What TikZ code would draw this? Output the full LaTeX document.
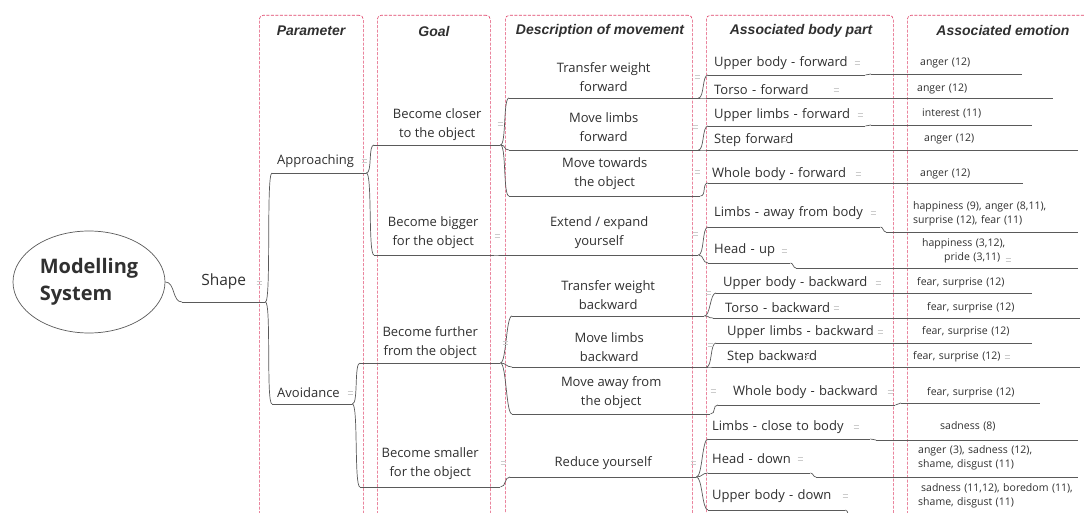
\documentclass[tikz,border=0pt]{standalone}
\usepackage{fontspec}
\setmainfont{Open Sans}
\newfontfamily\hdrfont{Liberation Sans}
\usetikzlibrary{shapes.geometric}
\definecolor{txt}{HTML}{303030}
\definecolor{lnc}{HTML}{5A5A5A}
\definecolor{colc}{HTML}{E0446A}
\definecolor{mkc}{HTML}{CCCCCC}
\newcommand\mainsz{\fontsize{13}{19}\selectfont}
\newcommand\emsz{\fontsize{10.5}{14.5}\selectfont}
\newcommand\hdrsz{\hdrfont\bfseries\itshape\fontsize{14}{16}\selectfont}
\begin{document}
\begin{tikzpicture}[x=1pt,y=-1pt,
 lnk/.style={draw=lnc, line width=0.7pt},
 brk/.style={to path={.. controls +(#1,0) and +(-#1,0) .. (\tikztotarget)}},
 brk/.default=6,
 colbox/.style={draw=colc, line width=0.6pt, dash pattern=on 3pt off 1.5pt, rounded corners=4pt, anchor=north west, inner sep=0pt},
 hdr/.style={font=\hdrsz, text=txt, inner sep=0pt},
 tn/.style={anchor=south west, inner sep=0pt, text=txt, font=\mainsz},
 ct/.style={tn, align=center},
 lt/.style={tn, align=left},
 em/.style={tn, align=left, font=\emsz},
 mk/.style={draw=mkc, line width=1.1pt},
]
\useasboundingbox (0,0) rectangle (1085,513);
\fill[white] (0,0) rectangle (1085,513);

% columns
\node[colbox, minimum width=104pt, minimum height=510pt] (cpar) at (259,15) {};
\node[colbox, minimum width=113pt, minimum height=510pt] (cgoal) at (377,15) {};
\node[colbox, minimum width=187pt, minimum height=510pt] (cdesc) at (505,15) {};
\node[colbox, minimum width=187pt, minimum height=510pt] (cbody) at (706,15) {};
\node[colbox, minimum width=185pt, minimum height=510pt] (cemo) at (907,15) {};

% headers
\node[hdr] (hpar) at (311,31) {Parameter};
\node[hdr] (hgoal) at (434,31) {Goal};
\node[hdr] (hdesc) at (600,31) {Description of movement};
\node[hdr] (hbody) at (801,31) {Associated body part};
\node[hdr] (hemo) at (1003,31) {Associated emotion};

% root
\node[ellipse, draw=lnc, line width=0.7pt, minimum width=152pt, minimum height=102pt, inner sep=0pt, align=left, text=txt, font=\fontsize{20}{27}\selectfont\bfseries] (root) at (89,282) {Modelling\\System};

% level 1
\node[ct, minimum width=83pt, minimum height=40pt, font=\fontsize{15.5}{18}\selectfont] (shape) at (182,302) {Shape};

% parameters
\node[lt, text width=94pt, minimum height=24pt] (appr) at (272,173) {\hspace*{5pt}Approaching};
\node[lt, text width=80pt, minimum height=22pt] (avoid) at (272,404) {\hspace*{5pt}Avoidance};

% goals
\node[ct, minimum width=126pt, minimum height=41pt] (closer) at (374,145) {Become closer\\to the object};
\node[ct, minimum width=118pt, minimum height=45pt] (bigger) at (374,255) {Become bigger\\for the object};
\node[ct, minimum width=140pt, minimum height=41pt] (further) at (360,363) {Become further\\from the object};
\node[ct, minimum width=140pt, minimum height=47pt] (smaller) at (360,487) {Become smaller\\for the object};

% descriptions
\node[ct, minimum width=189pt, minimum height=42pt] (twf) at (509,98) {Transfer weight\\forward};
\node[ct, minimum width=189pt, minimum height=46pt] (mlf) at (509,150) {Move limbs\\forward};
\node[ct, minimum width=191pt, minimum height=44pt] (mt) at (509,196) {Move towards\\the object};
\node[ct, minimum width=198pt, minimum height=45pt] (ext) at (500,255) {Extend / expand\\yourself};
\node[ct, minimum width=192pt, minimum height=41pt] (twb) at (512,316) {Transfer weight\\backward};
\node[ct, minimum width=194pt, minimum height=40pt] (mlb) at (512,367) {Move limbs\\backward};
\node[ct, minimum width=198pt, minimum height=43pt] (ma) at (512,414) {Move away from\\the object};
\node[ct, minimum width=186pt, minimum height=28pt] (red) at (510,477) {Reduce yourself};

% body parts
\node[lt, text width=157pt, minimum height=24pt] (b1) at (708,75) {\hspace*{6pt}Upper body - forward};
\node[lt, text width=137pt, minimum height=16pt] (b2) at (708,98) {\hspace*{6pt}Torso - forward};
\node[lt, text width=157pt, minimum height=22pt] (b3) at (708,126) {\hspace*{6pt}Upper limbs - forward};
\node[lt, text width=92pt, minimum height=20pt] (b4) at (708,150) {\hspace*{6pt}Step forward};
\node[lt, text width=157pt, minimum height=18pt] (b5) at (708,183) {\hspace*{4pt}Whole body - forward};
\node[lt, text width=172pt, minimum height=28pt] (b6) at (708,227) {\hspace*{6pt}Limbs - away from body};
\node[lt, text width=82pt, minimum height=26pt] (b7) at (708,263) {\hspace*{6pt}Head - up};
\node[lt, text width=167pt, minimum height=20pt] (b8) at (716,293) {\hspace*{7pt}Upper body - backward};
\node[lt, text width=132pt, minimum height=20pt] (b9) at (713,318) {\hspace*{12pt}Torso - backward};
\node[lt, text width=167pt, minimum height=22pt] (b10) at (716,343) {\hspace*{11pt}Upper limbs - backward};
\node[lt, text width=122pt, minimum height=20pt] (b11) at (713,367) {\hspace*{14pt}Step backward};
\node[lt, text width=177pt, minimum height=26pt] (b12) at (718,405) {\hspace*{15pt}Whole body - backward};
\node[lt, text width=162pt, minimum height=24pt] (b13) at (708,439) {\hspace*{4pt}Limbs - close to body};
\node[lt, text width=102pt, minimum height=28pt] (b14) at (708,473) {\hspace*{4pt}Head - down};
\node[lt, text width=137pt, minimum height=28pt] (b15) at (708,510) {\hspace*{4pt}Upper body - down};

% emotions
\node[em, text width=151pt, minimum height=22pt] (e1) at (871,74) {\hspace*{49pt}anger (12)};
\node[em, text width=202pt, minimum height=18pt] (e2) at (851,98) {\hspace*{66pt}anger (12)};
\node[em, text width=161pt, minimum height=22pt] (e3) at (871,125) {\hspace*{51pt}interest (11)};
\node[em, text width=272pt, minimum height=22pt] (e4) at (806,150) {\hspace*{118pt}anger (12)};
\node[em, text width=152pt, minimum height=18pt] (e5) at (871,183) {\hspace*{49pt}anger (12)};
\node[em, text width=192pt, minimum height=36pt] (e6) at (886,232) {\hspace*{27pt}happiness (9), anger (8,11),\\\hspace*{27pt}surprise (12), fear (11)};
\node[em, text width=282pt, minimum height=34pt] (e7) at (796,268) {\hspace*{126pt}happiness (3,12),\\\hspace*{148pt}pride (3,11)};
\node[em, text width=143pt, minimum height=20pt] (e8) at (889,293) {\hspace*{28pt}fear, surprise (12)};
\node[em, text width=229pt, minimum height=20pt] (e9) at (851,318) {\hspace*{76pt}fear, surprise (12)};
\node[em, text width=143pt, minimum height=22pt] (e10) at (889,343) {\hspace*{33pt}fear, surprise (12)};
\node[em, text width=239pt, minimum height=20pt] (e11) at (841,367) {\hspace*{72pt}fear, surprise (12)};
\node[em, text width=139pt, minimum height=20pt] (e12) at (901,403) {\hspace*{26pt}fear, surprise (12)};
\node[em, text width=202pt, minimum height=26pt] (e13) at (876,440) {\hspace*{64pt}sadness (8)};
\node[em, text width=262pt, minimum height=38pt] (e14) at (816,477) {\hspace*{102pt}anger (3), sadness (12),\\\hspace*{102pt}shame, disgust (11)};
\node[em, text width=227pt, minimum height=44pt] (e15) at (851,518) {\hspace*{70pt}sadness (11,12), boredom (11),\\\hspace*{67pt}shame, disgust (11)};

% underlines
\foreach \n in {shape,appr,avoid,closer,bigger,further,smaller,twf,mlf,mt,ext,twb,mlb,ma,red,
  b1,b2,b3,b4,b5,b6,b7,b8,b9,b10,b11,b12,b13,b14,b15,
  e1,e2,e3,e4,e5,e6,e7,e8,e9,e10,e11,e12,e13,e14,e15}
  \draw[lnk] (\n.south west) -- (\n.south east);

% connectors
\draw[lnk] (root.east) to[brk=10] (shape.south west);
\draw[lnk] (shape.south east) to[brk] (appr.south west);
\draw[lnk] (shape.south east) to[brk] (avoid.south west);
\draw[lnk] (appr.south east) to[brk] (closer.south west);
\draw[lnk] (appr.south east) to[brk] (bigger.south west);
\draw[lnk] (avoid.south east) to[brk] (further.south west);
\draw[lnk] (avoid.south east) to[brk] (smaller.south west);
\foreach \c in {twf,mlf,mt} \draw[lnk] (closer.south east) to[brk] (\c.south west);
\draw[lnk] (bigger.south east) to[brk] (ext.south west);
\foreach \c in {twb,mlb,ma} \draw[lnk] (further.south east) to[brk] (\c.south west);
\draw[lnk] (smaller.south east) to[brk] (red.south west);
\foreach \p/\c in {twf/b1,twf/b2,mlf/b3,mlf/b4,mt/b5,ext/b6,ext/b7,twb/b8,twb/b9,mlb/b10,mlb/b11,ma/b12,red/b13,red/b14,red/b15}
  \draw[lnk] (\p.south east) to[brk] (\c.south west);
\foreach \i in {1,...,15}
  \draw[lnk] (b\i.south east) to[brk=3] (e\i.south west);

% collapse markers
\foreach \x/\y in {259/283,364/161,350/393,500/124,497/236,505/343,503/463,
  697/77,695/127,697/172,695/234,708/293,710/345,713/391,693/463,
  857/63,836/90,860/115,785/140,858/174,873/213,784/251,
  878/283,836/308,880/332,807/357,890/392,856/427,800/459,845/496,
  1008/260,1007/357}
  \draw[mk] (\x-2.5,\y-1.5) -- (\x+2.5,\y-1.5) (\x-2.5,\y+1.5) -- (\x+2.5,\y+1.5);
\end{tikzpicture}
\end{document}
